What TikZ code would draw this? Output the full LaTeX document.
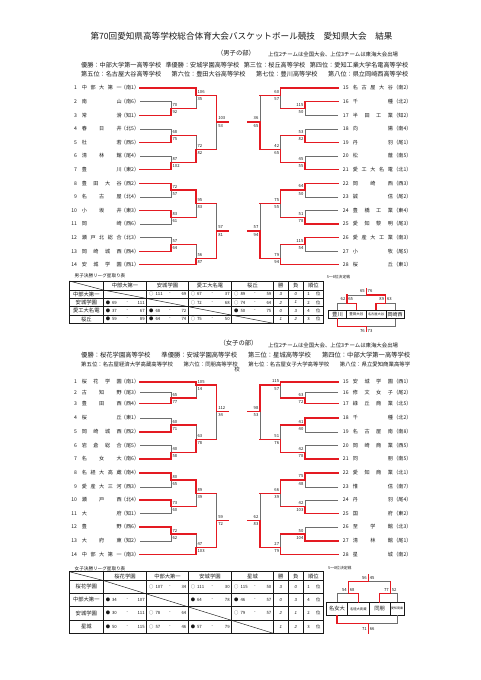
\documentclass[tikz,border=0pt]{standalone}
\usepackage{fontspec}
\setmainfont{Noto Sans CJK JP}
\newfontfamily\lsans{Liberation Sans}
\definecolor{bred}{RGB}{228,26,34}
\definecolor{bgray}{RGB}{110,110,110}
\definecolor{ink}{RGB}{25,25,25}
\newcount\nodecnt
\newcommand\fsz[1]{\fontsize{#1}{#1}\selectfont}
\newcommand\lab[5]{\global\advance\nodecnt by 1 \node[#1,anchor=#2] (n\the\nodecnt) at ({#3},{#4}) {#5};}
\tikzset{
 rl/.style={draw=bred,line width=1.35pt,line cap=rect},
 gl/.style={draw=bgray,line width=0.55pt},
 tx/.style={font=\fsz{5.1},inner sep=0pt,text=ink},
 sc/.style={font=\fsz{4.2},inner sep=0pt,text=ink},
 ct/.style={font=\fsz{4.3},inner sep=0pt,text=ink},
 th/.style={font=\fsz{5.3},inner sep=0pt,text=ink},
 tl/.style={draw=ink,line width=0.45pt},
 tb/.style={draw=ink,line width=0.8pt},
 bx/.style={draw=ink,line width=0.5pt,inner sep=0pt,minimum height=8.3pt,text=ink},
}
\newcommand\scl[4]{\lab{sc}{west}{#1+1.4}{#2-3.5}{#3}\lab{sc}{west}{#1+1.4}{#2+3.6}{#4}}
\newcommand\scr[4]{\lab{sc}{east}{#1-1.4}{#2-3.5}{#3}\lab{sc}{east}{#1-1.4}{#2+3.6}{#4}}
\newcommand\teamL[4]{\lab{tx}{east}{77.2}{#1}{#2}\lab{tx}{west}{81.6}{#1}{\makebox[40pt][s]{#3}}\lab{tx}{east}{139.3}{#1}{（#4）}}
\newcommand\teamR[4]{\lab{tx}{east}{348.8}{#1}{#2}\lab{tx}{west}{352.7}{#1}{\makebox[40pt][s]{#3}}\lab{tx}{east}{411.7}{#1}{（#4）}}
\newcommand\res[6]{\lab{ct}{west}{#1+2.3}{#3}{#4}\lab{ct}{west}{#1+8.6}{#3}{#5}\lab{ct}{center}{(#1+#2)/2+2.4}{#3}{-}\lab{ct}{east}{#2-1.8}{#3}{#6}}
\newcommand\wl[4]{\lab{ct}{center}{280.8}{#1}{\lsans\itshape #2}\lab{ct}{center}{295.8}{#1}{\lsans\itshape #3}\lab{ct}{center}{308.5}{#1}{#4}\lab{ct}{center}{318.3}{#1}{位}}
\def\T{140}\def\A{171}\def\B{196}\def\C{216.7}\def\S{228}
\def\Tr{338}\def\Ar{305}\def\Br{280.7}\def\Cr{260}\def\Sr{248}
\begin{document}
\begin{tikzpicture}[x=1pt,y=-1pt]
\useasboundingbox (0,0) rectangle (481,680);
\fill[white] (0,0) rectangle (481,680);
% ---------- headings ----------
\node[inner sep=0pt,font=\fsz{8.6},text=ink] (title) at (241.5,36) {第70回愛知県高等学校総合体育大会バスケットボール競技　愛知県大会　結果};
\node[inner sep=0pt,font=\fsz{6.3},text=ink] (mhd) at (236,53.3) {（男子の部）};
\node[inner sep=0pt,font=\fsz{5.4},text=ink,anchor=west] (mnote) at (268,54.3) {上位2チームは全国大会、上位3チームは東海大会出場};
\node[inner sep=0pt,font=\fsz{6.15},text=ink,anchor=west] (mres1) at (81,65) {\makebox[327pt][s]{優勝：中部大学第一高等学校 準優勝：安城学園高等学校 第三位：桜丘高等学校 第四位：愛知工業大学名電高等学校}};
\node[inner sep=0pt,font=\fsz{6.15},text=ink,anchor=west] (mres2) at (81,74.3) {\makebox[327pt][s]{第五位：名古屋大谷高等学校 第六位：豊田大谷高等学校 第七位：豊川高等学校 第八位：県立岡崎西高等学校}};
% ---------- male teams ----------
\teamL{88}{1}{中 部 大 第 一}{南1}
\teamL{101.6}{2}{南 山}{南6}
\teamL{115.2}{3}{常 滑}{知1}
\teamL{128.8}{4}{春 日 井}{北5}
\teamL{142.4}{5}{杜 若}{西5}
\teamL{156}{6}{清 林 館}{尾4}
\teamL{169.6}{7}{豊 川}{東2}
\teamL{183.2}{8}{豊 田 大 谷}{西2}
\teamL{196.8}{9}{名 古 屋}{北4}
\teamL{210.4}{10}{小 坂 井}{東3}
\teamL{224}{11}{岡 崎}{西6}
\teamL{237.6}{12}{瀬 戸 北 総 合}{北3}
\teamL{251.2}{13}{岡 崎 城 西}{西4}
\teamL{264.8}{14}{安 城 学 園}{西1}
\teamR{88}{15}{名 古 屋 大 谷}{南2}
\teamR{101.6}{16}{千 種}{北2}
\teamR{115.2}{17}{半 田 工 業}{知2}
\teamR{128.8}{18}{向 陽}{南4}
\teamR{142.4}{19}{丹 羽}{尾1}
\teamR{156}{20}{松 蔭}{南5}
\teamR{169.6}{21}{愛 工 大 名 電}{北1}
\teamR{183.2}{22}{岡 崎 西}{西3}
\teamR{196.8}{23}{誠 信}{尾2}
\teamR{210.4}{24}{豊 橋 工 業}{東4}
\teamR{224}{25}{愛 知 黎 明}{尾3}
\teamR{237.6}{26}{愛 産 大 工 業}{南3}
\teamR{251.2}{27}{小 牧}{尾5}
\teamR{264.8}{28}{桜 丘}{東1}
% ---------- male bracket: gray ----------
\draw[gl] (\T,101.6)-|(\A,108.4);
\draw[gl] (\B,108.4)--(\B,95.5);
\draw[gl] (\T,128.8)-|(\A,135.6);
\draw[gl] (\B,135.6)--(\B,149.2);
\draw[gl] (\T,156)-|(\A,162.8);
\draw[gl] (\C,149.2)--(\C,122);
\draw[gl] (\C,203.6)--(\C,231);
\draw[gl] (\T,196.8)-|(\A,190);
\draw[gl] (\B,217.2)--(\B,203.6);
\draw[gl] (\T,224)-|(\A,217.2);
\draw[gl] (\T,237.6)-|(\A,244.4);
\draw[gl] (\B,244.4)--(\B,258.3);
\draw[gl] (\Cr,95.5)--(\Cr,122);
\draw[gl] (\Br,108.4)--(\Br,95.5);
\draw[gl] (\Tr,115.2)-|(\Ar,108.4);
\draw[gl] (\Tr,128.8)-|(\Ar,135.6);
\draw[gl] (\Br,135.6)--(\Br,149.2);
\draw[gl] (\Tr,156)-|(\Ar,162.8);
\draw[gl] (\Cr,203.6)--(\Cr,231);
\draw[gl] (\Tr,196.8)-|(\Ar,190);
\draw[gl] (\Tr,210.4)-|(\Ar,217.2);
\draw[gl] (\Br,217.2)--(\Br,203.6);
\draw[gl] (\Br,244.4)--(\Br,258.3);
\draw[gl] (\Tr,251.2)-|(\Ar,244.4);
% ---------- male bracket: red ----------
\draw[rl] (\T,88)-|(\B,95.5)-|(\C,122)--(\S,122);
\draw[rl] (\T,115.2)-|(\A,108.4)--(\B,108.4);
\draw[rl] (\T,142.4)-|(\A,135.6)--(\B,135.6);
\draw[rl] (\T,169.6)-|(\A,162.8)-|(\B,149.2)--(\C,149.2);
\draw[rl] (\T,183.2)-|(\A,190)-|(\B,203.6)--(\C,203.6);
\draw[rl] (\T,210.4)-|(\A,217.2)--(\B,217.2);
\draw[rl] (\T,251.2)-|(\A,244.4)--(\B,244.4);
\draw[rl] (\T,264.8)-|(\B,258.3)-|(\C,231)--(\S,231);
\draw[rl] (\Tr,88)-|(\Br,95.5)--(\Cr,95.5);
\draw[rl] (\Tr,101.6)-|(\Ar,108.4)--(\Br,108.4);
\draw[rl] (\Tr,142.4)-|(\Ar,135.6)--(\Br,135.6);
\draw[rl] (\Tr,169.6)-|(\Ar,162.8)-|(\Br,149.2)-|(\Cr,122)--(\Sr,122);
\draw[rl] (\Tr,183.2)-|(\Ar,190)-|(\Br,203.6)--(\Cr,203.6);
\draw[rl] (\Tr,224)-|(\Ar,217.2)--(\Br,217.2);
\draw[rl] (\Tr,237.6)-|(\Ar,244.4)--(\Br,244.4);
\draw[rl] (\Tr,264.8)-|(\Br,258.3)-|(\Cr,231)--(\Sr,231);
% ---------- male scores ----------
\scl{\A}{108.4}{70}{92}\scl{\A}{135.6}{68}{75}\scl{\A}{162.8}{87}{102}
\scl{\A}{190}{72}{57}\scl{\A}{217.2}{83}{61}\scl{\A}{244.4}{57}{64}
\scl{\B}{95.5}{106}{35}\scl{\B}{149.2}{72}{82}\scl{\B}{203.6}{95}{83}\scl{\B}{258.3}{56}{87}
\scl{\C}{122}{103}{53}\scl{\C}{231}{57}{81}
\scr{\Ar}{108.4}{115}{50}\scr{\Ar}{135.6}{53}{82}\scr{\Ar}{162.8}{45}{55}
\scr{\Ar}{190}{64}{50}\scr{\Ar}{217.2}{51}{78}\scr{\Ar}{244.4}{115}{54}
\scr{\Br}{95.5}{60}{57}\scr{\Br}{149.2}{42}{65}\scr{\Br}{203.6}{75}{55}\scr{\Br}{258.3}{79}{94}
\scr{\Cr}{122}{36}{65}\scr{\Cr}{231}{57}{94}
% ---------- male league table ----------
\node[inner sep=0pt,font=\fsz{4.6},text=ink,anchor=west] (mlt) at (74.5,276) {男子決勝リーグ星取り表};
\foreach \x in {103.3,146.7,188.3,231.7,273.3,288.3,303.3} \draw[tl] (\x,281)--(\x,323.3);
\foreach \y in {290,298.3,306.7,315} \draw[tl] (69.3,\y)--(323.3,\y);
\draw[tb] (69.3,281) rectangle (323.3,323.3);
\draw[tl] (69.3,281)--(103.3,290);
\draw[tl] (103.3,290)--(273.3,323.3);
\lab{th}{center}{125}{285.5}{中部大第一}\lab{th}{center}{167.5}{285.5}{安城学園}
\lab{th}{center}{210}{285.5}{愛工大名電}\lab{th}{center}{252.5}{285.5}{桜丘}
\lab{th}{center}{280.8}{285.5}{勝}\lab{th}{center}{295.8}{285.5}{負}\lab{th}{center}{313.3}{285.5}{順位}
\lab{th}{center}{86.3}{294.2}{中部大第一}\lab{th}{center}{86.3}{302.5}{安城学園}
\lab{th}{center}{86.3}{310.9}{愛工大名電}\lab{th}{center}{86.3}{319.2}{桜丘}
\res{146.7}{188.3}{294.2}{○}{111}{69}\res{188.3}{231.7}{294.2}{○}{67}{37}\res{231.7}{273.3}{294.2}{○}{89}{59}\wl{294.2}{3}{0}{1}
\res{103.3}{146.7}{302.5}{●}{69}{111}\res{188.3}{231.7}{302.5}{○}{72}{68}\res{231.7}{273.3}{302.5}{○}{74}{64}\wl{302.5}{2}{1}{2}
\res{103.3}{146.7}{310.9}{●}{37}{67}\res{146.7}{188.3}{310.9}{●}{68}{72}\res{231.7}{273.3}{310.9}{●}{50}{75}\wl{310.9}{0}{3}{4}
\res{103.3}{146.7}{319.2}{●}{59}{89}\res{146.7}{188.3}{319.2}{●}{64}{74}\res{188.3}{231.7}{319.2}{○}{75}{50}\wl{319.2}{1}{2}{3}
% ---------- male 5-8 ----------
\node[inner sep=0pt,font=\fsz{3.8},text=ink,anchor=west] (m58) at (326.7,277.3) {5～8位決定戦};
\node[bx,minimum width=18.4pt,font=\fsz{5.3}] (k1) at (337.5,314.15) {豊川};
\node[bx,minimum width=19.3pt,font=\fsz{3.5}] (k2) at (356.35,314.15) {豊田大谷};
\node[bx,minimum width=20pt,font=\fsz{3.2}] (k3) at (376,314.15) {名古屋大谷};
\node[bx,minimum width=18.3pt,font=\fsz{5}] (k4) at (395.15,314.15) {岡崎西};
\draw[gl] (k1.north)|-(346.9,303.3);
\draw[gl] (k4.north)|-(385.6,303.3);
\draw[gl] (346.9,295)--(366.25,295);
\draw[gl] (k4.south)|-(366.25,326.7);
\draw[rl] (k2.north)|-(346.9,303.3)--(346.9,295);
\draw[rl] (k3.north)|-(385.6,303.3)--(385.6,295)--(366.25,295)--(366.25,288.3);
\draw[rl] (k1.south)|-(366.25,326.7)--(366.25,331.7);
\lab{sc}{east}{365}{291.4}{65}\lab{sc}{west}{367.5}{291.4}{76}
\lab{sc}{east}{345.6}{299.4}{62}\lab{sc}{west}{348.2}{299.4}{65}
\lab{sc}{east}{384.3}{299.4}{89}\lab{sc}{west}{386.9}{299.4}{63}
\lab{sc}{east}{365}{330.6}{76}\lab{sc}{west}{367.5}{330.6}{73}
% ---------- female headings ----------
\node[inner sep=0pt,font=\fsz{6.3},text=ink] (fhd) at (238.5,342.7) {（女子の部）};
\node[inner sep=0pt,font=\fsz{5.4},text=ink,anchor=west] (fnote) at (268,345) {上位2チームは全国大会、上位3チームは東海大会出場};
\node[inner sep=0pt,font=\fsz{6.3},text=ink,anchor=west] (fres1) at (81,355) {\makebox[329pt][s]{優勝：桜花学園高等学校 準優勝：安城学園高等学校 第三位：星城高等学校 第四位：中部大学第一高等学校}};
\node[inner sep=0pt,font=\fsz{5.4},text=ink,anchor=west] (fres2) at (81,364.3) {\makebox[329pt][s]{第五位：名古屋経済大学高蔵高等学校 第六位：同朋高等学校 第七位：名古屋女子大学高等学校 第八位：県立愛知商業高等学}};
\node[inner sep=0pt,font=\fsz{5.4},text=ink] (fres3) at (237,369.6) {校};
% ---------- female teams ----------
\teamL{382}{1}{桜 花 学 園}{南1}
\teamL{392.5}{2}{古 知 野}{尾3}
\teamL{403.5}{3}{豊 田 西}{西4}
\teamL{418}{4}{桜 丘}{東1}
\teamL{432}{5}{岡 崎 城 西}{西2}
\teamL{445.5}{6}{岩 倉 総 合}{尾5}
\teamL{459}{7}{名 女 大}{南6}
\teamL{473}{8}{名 経 大 高 蔵}{南4}
\teamL{487}{9}{愛 産 大 三 河}{西3}
\teamL{500}{10}{瀬 戸 西}{北4}
\teamL{513.5}{11}{大 府}{知1}
\teamL{527}{12}{豊 野}{西6}
\teamL{541}{13}{大 府 東}{知2}
\teamL{554.5}{14}{中 部 大 第 一}{南3}
\teamR{382}{15}{安 城 学 園}{西1}
\teamR{392.5}{16}{修 文 女 子}{尾2}
\teamR{403.5}{17}{緑 丘 商 業}{北5}
\teamR{418}{18}{千 種}{北2}
\teamR{432}{19}{名 古 屋 南}{南8}
\teamR{445.5}{20}{岡 崎 商 業}{西5}
\teamR{459}{21}{同 朋}{南5}
\teamR{473}{22}{愛 知 商 業}{北1}
\teamR{487}{23}{惟 信}{南7}
\teamR{500}{24}{丹 羽}{尾4}
\teamR{513.5}{25}{国 府}{東2}
\teamR{527}{26}{至 学 館}{北3}
\teamR{541}{27}{清 林 館}{尾1}
\teamR{554.5}{28}{星 城}{南2}
% ---------- female bracket: gray ----------
\draw[gl] (\T,392.5)-|(\A,398);
\draw[gl] (\B,398)--(\B,385);
\draw[gl] (\T,418)-|(\A,425);
\draw[gl] (\B,425)--(\B,439.3);
\draw[gl] (\T,445.5)-|(\A,452.3);
\draw[gl] (\C,439.3)--(\C,411.7);
\draw[gl] (\C,493.3)--(\C,520.7);
\draw[gl] (\T,487)-|(\A,480);
\draw[gl] (\B,506.8)--(\B,493.3);
\draw[gl] (\T,513.5)-|(\A,506.8);
\draw[gl] (\B,534)--(\B,547.3);
\draw[gl] (\T,541)-|(\A,534);
\draw[gl] (\Tr,392.5)-|(\Ar,398);
\draw[gl] (\Br,398)--(\Br,385);
\draw[gl] (\Br,425)--(\Br,439.3);
\draw[gl] (\Tr,432)-|(\Ar,425);
\draw[gl] (\Tr,445.5)-|(\Ar,452.3);
\draw[gl] (\Cr,439.3)--(\Cr,411.7);
\draw[gl] (\Cr,493.3)--(\Cr,520.7);
\draw[gl] (\Tr,487)-|(\Ar,480);
\draw[gl] (\Tr,500)-|(\Ar,506.8);
\draw[gl] (\Br,506.8)--(\Br,493.3);
\draw[gl] (\Tr,527)-|(\Ar,534);
\draw[gl] (\Br,534)--(\Br,547.3);
% ---------- female bracket: red ----------
\draw[rl] (\T,382)-|(\B,385)-|(\C,411.7)--(\S,411.7);
\draw[rl] (\T,403.5)-|(\A,398)--(\B,398);
\draw[rl] (\T,432)-|(\A,425)--(\B,425);
\draw[rl] (\T,459)-|(\A,452.3)-|(\B,439.3)--(\C,439.3);
\draw[rl] (\T,473)-|(\A,480)-|(\B,493.3)--(\C,493.3);
\draw[rl] (\T,500)-|(\A,506.8)--(\B,506.8);
\draw[rl] (\T,527)-|(\A,534)--(\B,534);
\draw[rl] (\T,554.5)-|(\B,547.3)-|(\C,520.7)--(\S,520.7);
\draw[rl] (\Tr,382)-|(\Br,385)-|(\Cr,411.7)--(\Sr,411.7);
\draw[rl] (\Tr,403.5)-|(\Ar,398)--(\Br,398);
\draw[rl] (\Tr,418)-|(\Ar,425)--(\Br,425);
\draw[rl] (\Tr,459)-|(\Ar,452.3)-|(\Br,439.3)--(\Cr,439.3);
\draw[rl] (\Tr,473)-|(\Ar,480)-|(\Br,493.3)--(\Cr,493.3);
\draw[rl] (\Tr,513.5)-|(\Ar,506.8)--(\Br,506.8);
\draw[rl] (\Tr,541)-|(\Ar,534)--(\Br,534);
\draw[rl] (\Tr,554.5)-|(\Br,547.3)-|(\Cr,520.7)--(\Sr,520.7);
% ---------- female scores ----------
\scl{\A}{398}{65}{77}\scl{\A}{425}{60}{71}\scl{\A}{452.3}{40}{58}
\scl{\A}{480}{80}{65}\scl{\A}{506.8}{73}{60}\scl{\A}{534}{72}{62}
\scl{\B}{385}{105}{14}\scl{\B}{439.3}{63}{78}\scl{\B}{493.3}{89}{39}\scl{\B}{547.3}{47}{103}
\scl{\C}{411.7}{112}{34}\scl{\C}{520.7}{59}{72}
\scr{\Ar}{398}{63}{72}\scr{\Ar}{425}{41}{40}\scr{\Ar}{452.3}{42}{78}
\scr{\Ar}{480}{75}{48}\scr{\Ar}{506.8}{42}{103}\scr{\Ar}{534}{50}{104}
\scr{\Br}{385}{115}{57}\scr{\Br}{439.3}{51}{76}\scr{\Br}{493.3}{66}{39}\scr{\Br}{547.3}{27}{79}
\scr{\Cr}{411.7}{98}{53}\scr{\Cr}{520.7}{62}{83}
% ---------- female league table ----------
\node[inner sep=0pt,font=\fsz{4.6},text=ink,anchor=west] (flt) at (74.5,568.3) {女子決勝リーグ星取り表};
\foreach \x in {103.3,146.7,188.3,231.7,273.3,288.3,303.3} \draw[tl] (\x,571.7)--(\x,633.3);
\foreach \y in {580.5,593,606.5,620} \draw[tl] (69.3,\y)--(323.3,\y);
\draw[tb] (69.3,571.7) rectangle (323.3,633.3);
\draw[tl] (69.3,571.7)--(103.3,580.5);
\draw[tl] (103.3,580.5)--(273.3,633.3);
\lab{th}{center}{125}{576.1}{桜花学園}\lab{th}{center}{167.5}{576.1}{中部大第一}
\lab{th}{center}{210}{576.1}{安城学園}\lab{th}{center}{252.5}{576.1}{星城}
\lab{th}{center}{280.8}{576.1}{勝}\lab{th}{center}{295.8}{576.1}{負}\lab{th}{center}{313.3}{576.1}{順位}
\lab{th}{center}{86.3}{586.75}{桜花学園}\lab{th}{center}{86.3}{599.75}{中部大第一}
\lab{th}{center}{86.3}{613.25}{安城学園}\lab{th}{center}{86.3}{626.65}{星城}
\res{146.7}{188.3}{586.75}{○}{107}{34}\res{188.3}{231.7}{586.75}{○}{111}{30}\res{231.7}{273.3}{586.75}{○}{115}{50}\wl{586.75}{3}{0}{1}
\res{103.3}{146.7}{599.75}{●}{34}{107}\res{188.3}{231.7}{599.75}{●}{64}{78}\res{231.7}{273.3}{599.75}{●}{46}{57}\wl{599.75}{0}{3}{4}
\res{103.3}{146.7}{613.25}{●}{30}{111}\res{146.7}{188.3}{613.25}{○}{78}{64}\res{231.7}{273.3}{613.25}{○}{79}{57}\wl{613.25}{2}{1}{2}
\res{103.3}{146.7}{626.65}{●}{50}{115}\res{146.7}{188.3}{626.65}{○}{57}{46}\res{188.3}{231.7}{626.65}{●}{57}{79}\wl{626.65}{1}{2}{3}
% ---------- female 5-8 ----------
\node[inner sep=0pt,font=\fsz{3.8},text=ink,anchor=west] (f58) at (328,568.3) {5～8位決定戦};
\node[bx,minimum width=20.6pt,minimum height=12.3pt,font=\fsz{5.3}] (q1) at (337,608.85) {名女大};
\node[bx,minimum width=22pt,minimum height=12.3pt,font=\fsz{3.3}] (q2) at (358.3,608.85) {名経大高蔵};
\node[bx,minimum width=20.7pt,minimum height=12.3pt,font=\fsz{5.3}] (q3) at (379.65,608.85) {同朋};
\node[bx,minimum width=14pt,minimum height=12.3pt,font=\fsz{3}] (q4) at (397,608.85) {愛知商業};
\draw[gl] (q1.north)|-(348.3,593.3);
\draw[gl] (q4.north)|-(390.3,593.3);
\draw[gl] (390.3,581.7)--(368.3,581.7);
\draw[gl] (q4.south)|-(368.3,623.3);
\draw[rl] (q2.north)|-(348.3,593.3)--(348.3,581.7)--(368.3,581.7)--(368.3,575);
\draw[rl] (q3.north)|-(390.3,593.3)--(390.3,581.7);
\draw[rl] (q1.south)|-(368.3,623.3)--(368.3,633.3);
\lab{sc}{east}{367}{577.7}{56}\lab{sc}{west}{369.6}{577.7}{45}
\lab{sc}{east}{347}{590}{54}\lab{sc}{west}{349.6}{590}{68}
\lab{sc}{east}{389}{590}{77}\lab{sc}{west}{391.6}{590}{52}
\lab{sc}{east}{367}{629}{71}\lab{sc}{west}{369.6}{629}{66}
\end{tikzpicture}
\end{document}
